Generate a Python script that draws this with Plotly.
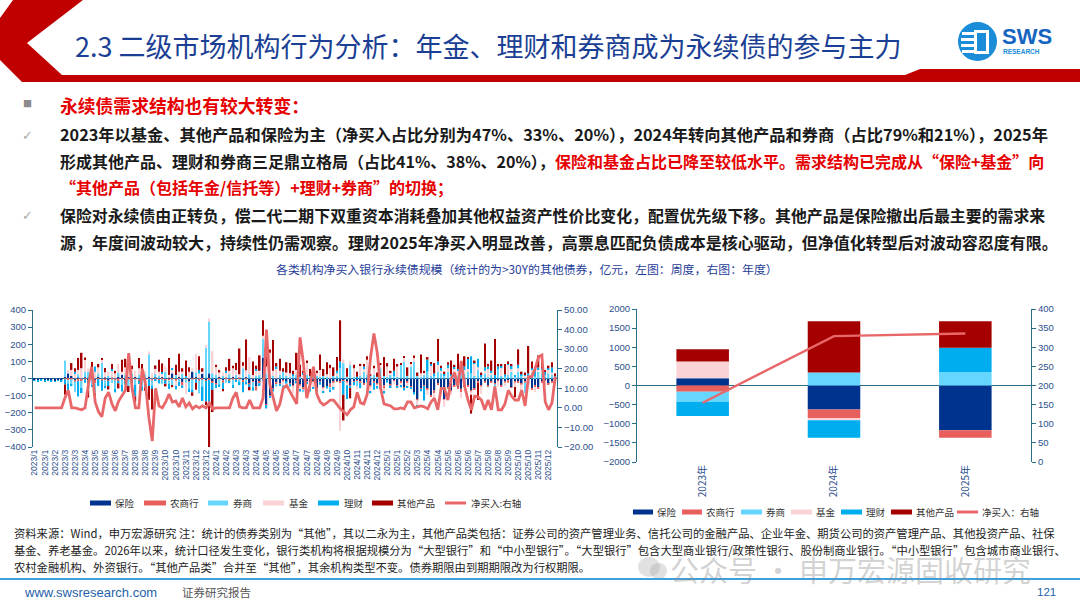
import pandas as pd
import plotly.graph_objects as go

W, H = 1080, 608
FONT = "Noto Sans CJK SC, Noto Sans, sans-serif"
LATIN = "Liberation Sans, Arial, sans-serif"

# ---- weekly data (left chart), 2023/1 - 2025/12 ----
weeks = pd.date_range("2023-01-06", periods=156, freq="7D")
week_ticks = weeks[::3]
week_ticktext = [f"{d.year}/{d.month}" for d in week_ticks]

ins_w = [-10, -12, -8, -14, -10, -12, -15, -10, -12,
         10, 30, 15, -10, 5, -5, 8, -10, 12, -8, 10, -5, 6, -10, 5, -6, 10, 20, -10, 8,
         -5, 10, -8, 5, -6, 12, -5, 6,
         -5, 8, -6, 5, 30, -8, 10, -20, 5, -15, 40, 10, -8, 30, -10, 30, -20, -30, 10, -10,
         5, -8, 10, -6, 5, -10, 8, -30, -15, -45, -20, 120, -150, -100, -60, -20, -30, -10, -15,
         -30, -40, -10, -35, -50, -20, -40, -15, -60, -20, -50, -45, -30, -20, -15, -20, -10, -20, -40, -15,
         -10, -15, -30, -10, -40, -20, -30, -45, -40, -10, -35, -10, -40, -20, -50, -15, -45, -80, -120, -60,
         -40, -60, -100, -70, -30, -60, -120, -50, -70, -40, -50, -60, -45, -40, -70, -60, -20, -40, -15, -40,
         -20, -30, -10, -40, -20, -10, -50, -20, -15, -30, -20, -30, -60, -40, -50, -20, -10, -30, -20, -15]
rural_w = [0, 0, 0, 0, 0, 0, 0, 0, 0,
           -5, -10, -5, -8, -15, -10, -5, -6, -8, -20, -4, -6, -12, -4, -6, -5, -18, -6, -5, -4,
           -10, -5, -4, -6, -15, -4, -6, -5,
           -4, -6, -5, -12, -6, -5, -4, -20, -5, -4, -6, -5, -4, -6, -5, -8, -6, -5, -4, -15,
           -5, -4, -6, -5, -4, -10, -5, -4, -6, -25, -8, -6, -5, -4, -6, -12, -4, -6, -5,
           -6, -5, -4, -6, -15, -4, -6, -5, -4, -6, -5, -4, -20, -5, -4, -6, -5, -4, -6, -5,
           -4, -12, -5, -4, -6, -5, -4, -6, -18, -4, -6, -5, -4, -6, -5, -10, -5, -4, -6, -5,
           -4, -6, -5, -15, -6, -5, -4, -6, -5, -4, -6, -20, -4, -6, -5, -4, -6, -5, -12, -6,
           -5, -4, -6, -5, -4, -15, -5, -4, -6, -5, -4, -6, -5, -10, -6, -5, -4, -6, -5, -4]
broker_w = [0, 0, 0, 0, 0, 0, 0, 0, 0,
            95, -20, -30, -60, 20, -40, 30, 40, -30, -60, 20, 90, -30, 15, -20, -50, 25, -30, 20, -40,
            30, -30, 20, -40, 25, 130, -30, 20,
            15, -25, 40, -20, -35, 20, -15, 30, -20, -40, -65, 25, -75, -40, 180, 300, 30, 20, -30, 15,
            -20, 25, -30, 20, -15, 60, -20, 25, -30, 15, 20, 110, 30, 20, 15, -15, 20, 40, 15,
            10, 15, 20, 10, -15, 20, 15, 30, 15, 10, 15, 10, -20, 15, 20, 60, 90, 10, 80, 10,
            -30, 15, 40, 20, 15, 20, 10, 60, 15, 10, 20, 15, 10, 80, 100, 15, 70, 100, 15, 10,
            20, 40, 15, 20, 40, 30, 20, 40, 15, 20, 15, 40, 30, 40, 30, 15, 50, 10, 30, 10,
            20, -40, 60, 15, 10, 20, 40, 10, 40, 15, -60, 20, 30, 10, 40, 30, 20, 30, 20, 10]
fund_w = [0, 0, 0, 0, 0, 0, 0, 0, 0,
          0, 20, 35, 30, 25, 60, 70, 20, 55, 40, 35, 20, 30, 25, 40, 30, 50, 20, 45, 60,
          25, 35, 40, 30, 20, 15, 30, 30,
          25, 20, 30, 15, 20, -30, 30, 10, -65, 40, 20, 110, 30, 10, 15, 20, 130, 50, 25, 20,
          30, 20, 50, 30, 20, 15, 40, 100, 20, 30, 25, 20, 40, 130, 30, 60, 25, -25, 20,
          20, -40, 30, -25, 20, 70, -20, -30, 20, 40, -20, 15, 60, -30, 10, -280, 20, -15, 20, 50,
          -20, 60, 20, 90, -30, 40, -15, 20, -20, 60, 15, -20, 60, -15, 20, -20, 15, 20, -30, 20,
          15, -30, 60, -25, 40, 15, -40, 20, -20, 40, 30, -35, 20, 15, -20, 70, 15, -45, 15, 50,
          15, -30, -30, 50, -20, 60, 15, -25, 20, -40, 15, -20, 20, -30, 15, 20, -25, 20, 15, -20]
wealth_w = [-4, -3, -5, -4, -3, -5, -4, -3, -4,
            -30, -40, -10, 10, -90, -30, -20, -50, -10, 30, -40, -60, -15, -30, 10, -20, -10, -40, -20, 10,
            -60, -70, -20, -25, -30, -40, -20, -10,
            -20, 10, -20, -30, 10, -20, -25, -15, 10, -20, -10, -20, 20, -85, -120, -150, -40, -20, -15, -40,
            10, -15, -20, -10, -20, -60, -10, -15, -20, 10, -15, -10, -20, -10, -10, 10, -10, -15, -10,
            -10, 10, -15, -10, 15, -10, -10, -10, -20, -10, -10, -10, -10, -10, 15, 40, -80, -80, -10, -20,
            10, -30, 10, -10, -10, -40, -10, -10, -10, -10, -15, 30, -10, -10, -15, -10, -10, -10, -10, -10,
            -85, 70, 10, 10, 20, 20, 10, 20, 10, 10, 10, 30, 20, 60, 100, 10, 50, 10, 20, 10,
            10, 20, 10, 10, 15, 10, 20, 10, 20, 10, 10, 10, 10, 40, 10, 10, 20, 10, 30, 10]
other_w = [0, 0, 0, 0, 0, 0, 0, 0, 0,
           -60, -20, 40, 20, 70, 90, 15, -45, 30, -40, 20, 10, 25, -20, 30, 15, -30, 70, 50, -35,
           20, -30, 60, 50, -20, -80, -120, 20,
           70, 50, -15, 100, -10, 60, 105, 20, 90, 25, -20, -40, 80, 20, -20, -300, -130, 10, 15, -10,
           20, 70, 15, 40, 150, 20, 180, -20, 80, 20, 90, 90, 60, 20, 180, 20, 70, 20, 60,
           60, 20, 100, 70, 10, 15, 40, 15, 10, 90, 40, 70, 20, 50, 80, 240, -150, 50, -60, 20,
           30, 10, 15, 20, 10, 15, 25, 10, 110, 20, 10, 70, 15, 10, 10, 50, 10, 15, 20, 110,
           10, 15, 10, 60, 130, 10, 10, 15, 80, 10, 90, 10, 60, 10, -110, 10, -100, 15, 140, 15,
           60, 210, 15, 10, 60, 10, 10, -60, 90, 15, 10, 160, 40, 10, 70, 60, 10, 15, 30, 10]
net_w = [0, 0, 0, 0, 0, 0, 0, 0, 0, 5,
         9, 0, 0, -0.5, -1, 0, 12, 21, 3, -2,
         -4.5, 5, 8, 2, -1.5, 3.5, 6, 9, 28, 10,
         0, 0, 20, 12, -5, -17, 10, 1, 0, 3,
         7, 3, 3.5, 0.5, 5, 0.5, 2.5, -0.5, 1, 0,
         1, 0, 2.5, -0.5, 0, 0, 0, 0, 0, 5,
         8, 0.5, 0, 0, 4, 0, 0, 0, 5, 40,
         12, 5.6, -1.5, 2, 10, 11.5, 8.5, 5.6, 2, 36,
         23, 5, 12, 21, 7, 3, 1.5, 2.5, 4, 4,
         1.5, -0.5, -2, -3.5, -1, 0.5, 8, 2.5, 2, 7,
         26, 38, 28, 10, 2, 1.5, 1, -0.5, -0.5, 0,
         -0.5, 3, 3, 0, 0.5, 1, 0.5, -0.5, 3, 5,
         -1, 10, 10, 4, 15, 18, 11, 24, 11, 4,
         -1, 6, 5.6, 4, -1, 4, -1, 11, -1, -1,
         2, 9, 6, 4, 4, 9, 1, 16, 16, 20,
         26, 27, 3, -1, 2.5, 16]

# ---- annual data (right chart) ----
years = ["2023年", "2024年", "2025年"]
ins_y = [190, -630, -1170]
rural_y = [-165, -220, -195]
broker_y = [-260, 340, 350]
fund_y = [440, -60, 0]
wealth_y = [-370, -455, 640]
other_y = [315, 1340, 690]
net_y = [155, 329, 336]

names = ["保险", "农商行", "券商", "基金", "理财", "其他产品"]
colors = ["#00338e", "#e8605e", "#66d6ff", "#f9d3d6", "#00aeef", "#a50000"]
line_color = "#e8686a"
tick_blue = "#2c4f8c"
axis_teal = "#2a6f8a"

fig = go.Figure()

weekly = [ins_w, rural_w, broker_w, fund_w, wealth_w, other_w]
for n, c, v in zip(names, colors, weekly):
    fig.add_trace(go.Bar(x=weeks, y=v, name=n, marker=dict(color=c, line=dict(width=0)),
                         xaxis="x", yaxis="y"))
fig.add_trace(go.Scatter(x=weeks, y=net_w, mode="lines", name="净买入:右轴",
                         line=dict(color=line_color, width=2.8), xaxis="x", yaxis="y2"))

annual = [ins_y, rural_y, broker_y, fund_y, wealth_y, other_y]
for n, c, v in zip(names, colors, annual):
    fig.add_trace(go.Bar(x=years, y=v, name=n, width=0.4, marker=dict(color=c, line=dict(width=0)),
                         xaxis="x2", yaxis="y3"))
fig.add_trace(go.Scatter(x=years, y=net_y, mode="lines", name="净买入：右轴",
                         line=dict(color=line_color, width=2.4), xaxis="x2", yaxis="y4"))


def px(x, y):
    return x / W, 1 - y / H


def T(x, y, text, size, color="#1a1a1a", anchor="left", family=FONT):
    xx, yy = px(x, y)
    return dict(x=xx, y=yy, xref="paper", yref="paper", text=text, showarrow=False,
                xanchor=anchor, yanchor="middle", font=dict(size=size, color=color, family=family))


def path(pts):
    return "M " + " L ".join(f"{x / W:.5f},{1 - y / H:.5f}" for x, y in pts) + " Z"


def rect(x0, y0, x1, y1, color, kind="rect", line=None):
    a, b = px(x0, y0)
    c, d = px(x1, y1)
    return dict(type=kind, xref="paper", yref="paper", x0=a, y0=d, x1=c, y1=b,
                fillcolor=color, line=line or dict(width=0), layer="above")


def hline(x0, x1, y, color, width):
    return dict(type="line", xref="paper", yref="paper", x0=x0 / W, x1=x1 / W,
                y0=1 - y / H, y1=1 - y / H, line=dict(color=color, width=width))


shapes = [
    dict(type="path", xref="paper", yref="paper", fillcolor="#c00000", line=dict(width=0),
         path=path([(13, 0), (83, 0), (27, 43), (62, 75), (905, 75), (920, 69), (1080, 69),
                    (1080, 82), (22, 82), (0, 60), (0, 18)])),
    # logo mark
    rect(958, 22, 997, 61, "#1a8cd8", "circle"),
    rect(962, 32, 976, 35, "#ffffff"),
    rect(961, 38, 976, 41, "#ffffff"),
    rect(961, 44, 976, 47, "#ffffff"),
    rect(962, 50, 976, 53, "#ffffff"),
    rect(974, 30, 989, 54, "#ffffff"),
    rect(977, 33, 986, 51, "#1a8cd8"),
    # watermark icon
    rect(638, 557, 660, 577, "rgba(170,170,170,0.35)", "circle"),
    rect(650, 563, 667, 579, "rgba(170,170,170,0.35)", "circle"),
    hline(0, 1080, 579, "#3d9fdc", 2),
]

red = "#e60000"
anns = [
    T(73, 45, "2.3 二级市场机构行为分析：年金、理财和券商成为永续债的参与主力", 27, "#1b3f94"),
    T(1000, 37, "<b>SWS</b>", 22, "#1565c0", family=LATIN),
    T(1001, 52, "<b>RESEARCH</b>", 6.5, "#1a8cd8", family=LATIN),
    T(27, 104, "■", 9, "#8c8c8c", "center"),
    T(58, 105, "<b>永续债需求结构也有较大转变：</b>", 17.8, red),
    T(27, 135, "✓", 13, "#a8a8a8", "center", "DejaVu Sans"),
    T(58, 134, "<b>2023年以基金、其他产品和保险为主（净买入占比分别为47%、33%、20%），"
               "2024年转向其他产品和券商（占比79%和21%），2025年</b>", 16.25),
    T(58, 161, "<b>形成其他产品、理财和券商三足鼎立格局（占比41%、38%、20%），"
               f"<span style='color:{red}'>保险和基金占比已降至较低水平。需求结构已完成从“保险+基金”向</span></b>", 16.0),
    T(58, 187, "<b>“其他产品（包括年金/信托等）+理财+券商”的切换；</b>", 16.0, red),
    T(27, 215, "✓", 13, "#a8a8a8", "center", "DejaVu Sans"),
    T(58, 215, "<b>保险对永续债由正转负，偿二代二期下双重资本消耗叠加其他权益资产性价比变化，"
               "配置优先级下移。其他产品是保险撤出后最主要的需求来</b>", 15.9),
    T(58, 242, "<b>源，年度间波动较大，持续性仍需观察。理财2025年净买入明显改善，"
               "高票息匹配负债成本是核心驱动，但净值化转型后对波动容忍度有限。</b>", 16.0),
    T(527, 268, "各类机构净买入银行永续债规模（统计的为>30Y的其他债券，亿元，左图：周度，右图：年度）",
      11.9, "#1f3d99", "center"),
    T(668, 569, "公众号 · 申万宏源固收研究", 29, "rgba(140,140,140,0.40)"),
    T(12, 533, "资料来源：Wind，申万宏源研究 注：统计的债券类别为“其他”，其以二永为主，其他产品类包括：证券公司的资产管理业务、"
               "信托公司的金融产品、企业年金、期货公司的资产管理产品、其他投资产品、社保", 11.3, "#222222"),
    T(12, 550, "基金、养老基金。2026年以来，统计口径发生变化，银行类机构将根据规模分为“大型银行”和“中小型银行”。"
               "“大型银行”包含大型商业银行/政策性银行、股份制商业银行。“中小型银行”包含城市商业银行、", 11.3, "#222222"),
    T(12, 567, "农村金融机构、外资银行。“其他产品类”合并至“其他”，其余机构类型不变。债券期限由到期期限改为行权期限。",
      11.3, "#222222"),
    T(22, 592, "www.swsresearch.com", 13, "#1f5fa8", family=LATIN),
    T(180, 592, "证券研究报告", 11.5, "#555555"),
    T(1058, 592, "121", 11.5, "#1f5fa8", "right", LATIN),
]

# hand-placed legends (key line start, key line end, text start)
legend_left = [(90, 111, 113), (144, 166, 168), (208, 228, 231), (263, 284, 287),
               (318, 339, 342), (372, 393, 395), (445, 466, 469)]
legend_right = [(633, 653, 655), (682, 702, 704), (741, 762, 764), (791, 812, 814),
                (841, 862, 864), (891, 912, 914), (957, 978, 980)]
for spots, ly, last in [(legend_left, 503, "净买入:右轴"), (legend_right, 512, "净买入：右轴")]:
    labels = names + [last]
    keycolors = colors + [line_color]
    for (k0, k1, tx), lab, c in zip(spots, labels, keycolors):
        shapes.append(hline(k0, k1, ly, c, 3 if lab == last else 5))
        anns.append(T(tx, ly, lab, 9.5, "#333333"))

tickfont = dict(size=9.5, color=tick_blue, family=LATIN)
yax = dict(showline=True, linecolor=axis_teal, linewidth=1, ticks="outside", ticklen=4,
           tickcolor=axis_teal, showgrid=False, tickfont=tickfont, automargin=False)

fig.update_layout(
    width=W, height=H, autosize=False,
    margin=dict(l=0, r=0, t=0, b=0),
    paper_bgcolor="white", plot_bgcolor="white",
    showlegend=False,
    barmode="relative", bargap=0.55,
    font=dict(family=FONT),
    xaxis=dict(domain=[33 / W, 557 / W], anchor="y", tickvals=list(week_ticks), ticktext=week_ticktext,
               tickangle=-90, showline=False, ticks="", showgrid=False, automargin=False,
               tickfont=dict(size=8.5, color=tick_blue, family=LATIN)),
    yaxis=dict(domain=[1 - 447 / H, 1 - 310 / H], range=[-400, 400], dtick=100,
               zeroline=True, zerolinecolor=axis_teal, zerolinewidth=1.2, **yax),
    yaxis2=dict(overlaying="y", side="right", anchor="x", range=[-20, 50], dtick=10,
                tickformat=".2f", zeroline=False, **yax),
    xaxis2=dict(domain=[637 / W, 1031 / W], anchor="y3", type="category", tickangle=-90,
                showline=False, ticks="", showgrid=False, automargin=False,
                tickfont=dict(size=10, color=tick_blue, family=FONT)),
    yaxis3=dict(domain=[1 - 462 / H, 1 - 309 / H], anchor="x2", range=[-2000, 2000], dtick=500,
                zeroline=True, zerolinecolor=axis_teal, zerolinewidth=1.2, **yax),
    yaxis4=dict(overlaying="y3", side="right", anchor="x2", range=[0, 400], dtick=50,
                zeroline=False, **yax),
    shapes=shapes,
    annotations=anns,
)

# drop the browser's default 8px page margin so the figure sits at the window corner
fig.write_html("out.html", config={"displayModeBar": False},
               post_script="document.body.style.margin='0';")
